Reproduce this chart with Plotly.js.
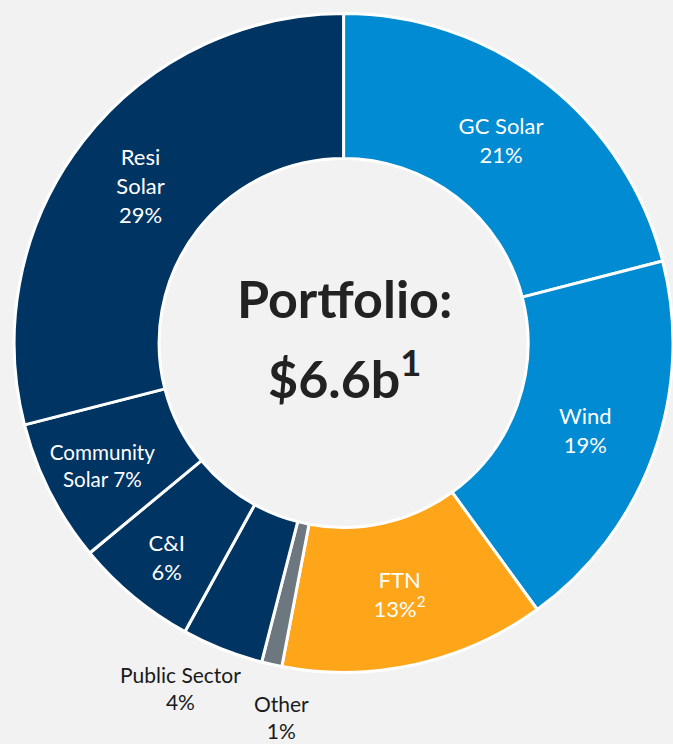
<!DOCTYPE html>
<html>
<head>
<meta charset="utf-8">
<script src="https://cdn.plot.ly/plotly-3.0.1.min.js"></script>
<style>html,body{margin:0;padding:0;background:#f2f2f2;}#chart{width:673px;height:744px;}</style>
</head>
<body>
<div id="chart"></div>
<script>
const categories = ["GC Solar", "Wind", "FTN", "Other", "Public Sector", "C&I", "Community Solar", "Resi Solar"];
const shares = [21, 19, 13, 1, 4, 6, 7, 29];
const sliceLabels = ["GC Solar<br>21%", "Wind<br>19%", "FTN<br>13%<sup>2</sup>", "Other<br>1%", "Public Sector<br>4%", "C&I<br>6%", "Community<br>Solar 7%", "Resi<br>Solar<br>29%"];
const labelInside = [true, true, true, false, false, true, true, true];
const sliceColors = ["#008bd2", "#008bd2", "#fea519", "#6d7780", "#003462", "#003462", "#003462", "#003462"];
const centerLines = ["Portfolio:", "$6.6b<sup>1</sup>"];

const FONT = "Lato, 'Open Sans', sans-serif";

const trace = {
  type: "pie",
  labels: categories,
  values: shares,
  text: sliceLabels.map((t, i) => labelInside[i] ? t : ""),
  textinfo: "text",
  texttemplate: "%{text}",
  hoverinfo: "label+percent",
  textposition: labelInside.map(v => v ? "inside" : "none"),
  insidetextorientation: "horizontal",
  sort: false,
  direction: "clockwise",
  rotation: 0,
  hole: 0.56,
  marker: { colors: sliceColors, line: { color: "#ffffff", width: 3 } },
  insidetextfont: { family: FONT, size: 22, color: "#ffffff" },
  domain: { x: [0.021, 1.0], y: [0.0955, 0.9825] },
  showlegend: false
};

// outside labels for the two thin slices (label text from the data arrays)
const outsideIdx = labelInside.map((v, i) => v ? -1 : i).filter(i => i >= 0);
const outsidePlacement = { "Other": { x: 0.418, y: 0.036 }, "Public Sector": { x: 0.268, y: 0.075 } };

const annotations = [
  { text: "<b>" + centerLines[0] + "</b>", x: 0.512, y: 0.6, xref: "paper", yref: "paper", showarrow: false,
    font: { family: FONT, size: 52, color: "#222222" }, xanchor: "center", yanchor: "middle" },
  { text: "<b>" + centerLines[1] + "</b>", x: 0.512, y: 0.497, xref: "paper", yref: "paper", showarrow: false,
    font: { family: FONT, size: 52, color: "#222222" }, xanchor: "center", yanchor: "middle" }
];
outsideIdx.forEach(i => {
  const p = outsidePlacement[categories[i]];
  annotations.push({ text: sliceLabels[i], x: p.x, y: p.y, xref: "paper", yref: "paper", showarrow: false,
    xanchor: "center", yanchor: "middle", align: "center",
    font: { family: FONT, size: 21, color: "#1a1a1a" } });
});

const layout = {
  width: 673,
  height: 744,
  margin: { l: 0, r: 0, t: 0, b: 0 },
  paper_bgcolor: "#f2f2f2",
  plot_bgcolor: "#f2f2f2",
  showlegend: false,
  annotations: annotations
};

Plotly.newPlot("chart", [trace], layout, { displayModeBar: false, staticPlot: true });
</script>
</body>
</html>
